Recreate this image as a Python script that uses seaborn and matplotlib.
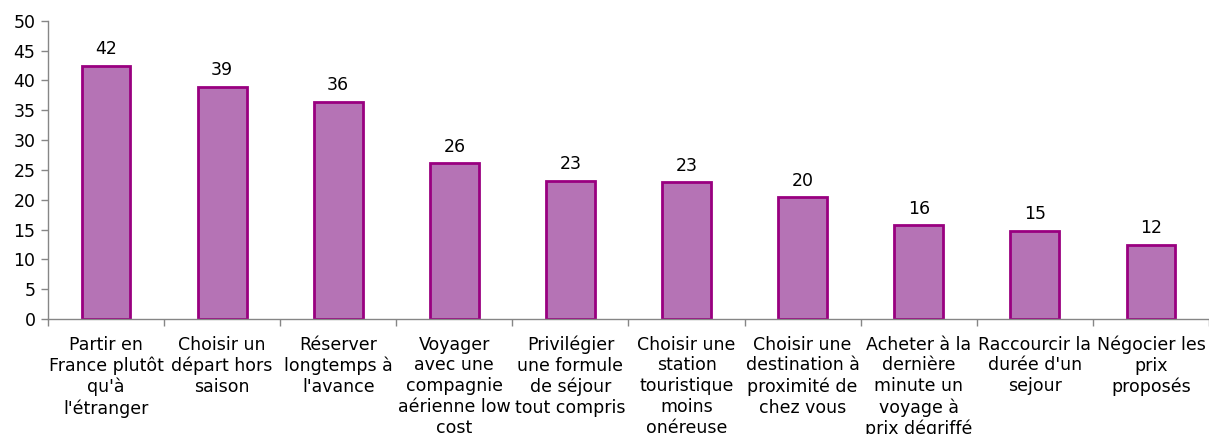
import matplotlib
matplotlib.use("Agg")
import matplotlib.pyplot as plt
import seaborn as sns
import pandas as pd
import numpy as np

categories = [
    "Partir en\nFrance plutôt\nqu'à\nl'étranger",
    "Choisir un\ndépart hors\nsaison",
    "Réserver\nlongtemps à\nl'avance",
    "Voyager\navec une\ncompagnie\naérienne low\ncost",
    "Privilégier\nune formule\nde séjour\ntout compris",
    "Choisir une\nstation\ntouristique\nmoins\nonéreuse",
    "Choisir une\ndestination à\nproximité de\nchez vous",
    "Acheter à la\ndernière\nminute un\nvoyage à\nprix dégriffé",
    "Raccourcir la\ndurée d'un\nsejour",
    "Négocier les\nprix\nproposés",
]
values = [42.4, 38.9, 36.4, 26.1, 23.1, 22.9, 20.4, 15.7, 14.8, 12.4]

sns.set_theme(style="white")
plt.rcParams['font.family'] = ['DejaVu Sans']

df = pd.DataFrame({"cat": categories, "val": values})

fig = plt.figure(figsize=(12.09, 4.34), dpi=100)
ax = fig.add_axes([0.0397, 0.265, 0.9603, 0.687])

sns.barplot(data=df, x="cat", y="val", ax=ax, color="#B573B5",
            edgecolor="#990080", linewidth=2, width=0.42, saturation=1)

FS = 12.5
for p, v in zip(ax.patches, values):
    ax.text(p.get_x() + p.get_width() / 2, p.get_height() + 1.3,
            f"{v:.0f}", ha="center", va="bottom", fontsize=FS, color="#000000")

ax.set_ylim(0, 50)
ax.set_yticks(np.arange(0, 51, 5))
ax.set_xlim(-0.5, len(categories) - 0.5)
ax.set_xlabel("")
ax.set_ylabel("")

ax.set_xticks(np.arange(len(categories)))
ax.set_xticklabels(categories, fontsize=FS, linespacing=1.2)
ax.set_xticks(np.arange(-0.5, len(categories), 1), minor=True)
ax.tick_params(axis="x", which="major", length=0, pad=12, colors="#000000")
ax.tick_params(axis="x", which="minor", length=5, width=1, color="#868686", bottom=True)
ax.tick_params(axis="y", length=5, width=1, color="#868686", left=True, labelsize=FS,
               labelcolor="#000000", pad=4)

for s in ["top", "right"]:
    ax.spines[s].set_visible(False)
for s in ["left", "bottom"]:
    ax.spines[s].set_color("#868686")
    ax.spines[s].set_linewidth(1)

fig.savefig("out.png", dpi=100)
